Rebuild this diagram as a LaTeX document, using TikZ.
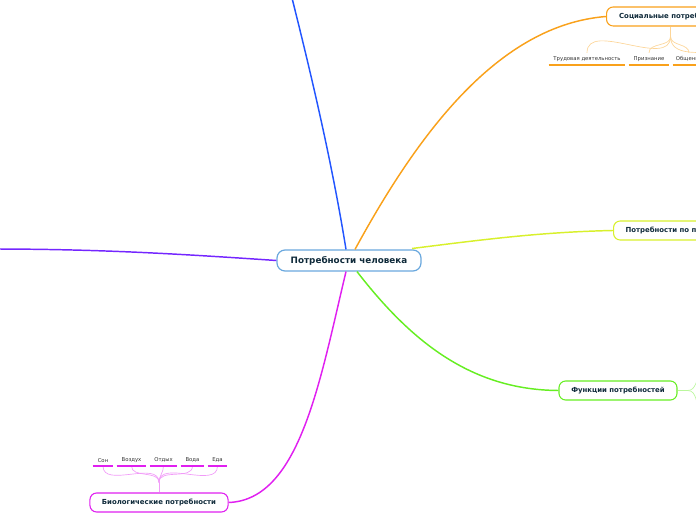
\documentclass[tikz,border=0pt]{standalone}
\usepackage{fontspec}
\setmainfont{DejaVu Sans}
\definecolor{txt}{HTML}{0F2A3A}
\definecolor{rootc}{HTML}{6AA8DE}
\definecolor{bluec}{HTML}{2255FF}
\definecolor{socialc}{HTML}{F9A11B}
\definecolor{originc}{HTML}{D8F02C}
\definecolor{funcc}{HTML}{66EE22}
\definecolor{bioc}{HTML}{E020F0}
\definecolor{purplec}{HTML}{7426FF}

\begin{document}
\begin{tikzpicture}[x=0.75pt,y=-0.75pt,
    root/.style={draw=rootc, fill=white, rounded corners=6pt, line width=0.9pt,
        minimum width=108pt, minimum height=15.75pt, inner sep=0pt,
        font=\bfseries\fontsize{6.6}{8}\selectfont, text=txt},
    topic/.style={draw=#1, fill=white, rounded corners=5pt, line width=0.8pt,
        minimum height=14.25pt, inner xsep=9pt, inner ysep=0pt,
        font=\bfseries\fontsize{5.2}{6}\selectfont, text=txt},
    leaf/.style={anchor=south, inner xsep=1pt, inner ysep=2.5pt,
        font=\fontsize{4}{5}\selectfont, text=black!80},
    branch/.style={line width=1.1pt, draw=#1},
    fork/.style={line width=0.5pt, draw=#1!45},
    uline/.style={line width=1.4pt, draw=#1}]

    \useasboundingbox (0,0) rectangle (696,520);
    \clip (0,0) rectangle (696,520);

    % Nodes
    \node[root] (root) at (349,260.5) {Потребности человека};
    \node[topic=socialc, anchor=west, minimum width=96pt] (social) at (606,16.5) {Социальные потребности};
    \node[topic=originc, anchor=west] (origin) at (613,230.5) {Потребности по происхождению};
    \node[topic=funcc, minimum width=88.5pt] (func) at (618,390.5) {Функции потребностей};
    \node[topic=bioc, minimum width=103.5pt] (bio) at (159,502.5) {Биологические потребности};

    % Free ends outside the picture
    \coordinate (up) at (290,-10);
    \coordinate (left) at (-10,249);

    % Main branches
    \draw[branch=bluec] (root.north -| 346,0) .. controls (330,150) and (305,50) .. (up);
    \draw[branch=socialc] (root.north -| 355,0) .. controls (420,130) and (500,25) .. (social.west);
    \draw[branch=originc] (412,248.5) .. controls (480,240) and (540,232) .. (origin.west);
    \draw[branch=funcc] (root.south -| 357,0) .. controls (410,340) and (470,390) .. (func.west);
    \draw[branch=bioc] (root.south -| 346,0) .. controls (320,380) and (300,500) .. (bio.east);
    \draw[branch=purplec] (root.west) .. controls (180,254) and (100,249) .. (left);

    % Social needs
    \node[leaf, minimum width=57pt] (work) at (587,65) {Трудовая деятельность};
    \node[leaf, minimum width=30pt] (fame) at (649,65) {Признание};
    \node[leaf, minimum width=24pt] (talk) at (689,65) {Общение};
    \coordinate (more) at (720,52);
    \draw[fork=socialc] (social.south) -- ++(0,10) coordinate (sj);
    \foreach \n in {work,fame,talk}
        \draw[fork=socialc] (sj) to[out=-90,in=90] (\n.north);
    \draw[fork=socialc] (sj) to[out=-90,in=180] (more);
    \foreach \n in {work,fame,talk}
        \draw[uline=socialc] (\n.south west) -- (\n.south east);

    % Functions
    \coordinate (f1) at (702,372);
    \coordinate (f2) at (702,412);
    \draw[fork=funcc] (func.east) -- ++(10,0) coordinate (fj);
    \draw[fork=funcc] (fj) to[out=0,in=225] (f1);
    \draw[fork=funcc] (fj) to[out=0,in=135] (f2);

    % Biological needs
    \node[leaf, minimum width=15pt] (sleep) at (103,466) {Сон};
    \node[leaf, minimum width=21.75pt] (air) at (131.5,466) {Воздух};
    \node[leaf, minimum width=20.25pt] (rest) at (163.5,466) {Отдых};
    \node[leaf, minimum width=17.25pt] (water) at (192.5,466) {Вода};
    \node[leaf, minimum width=14.25pt] (food) at (217.5,466) {Еда};
    \draw[fork=bioc] (bio.north) -- ++(0,-10) coordinate (bj);
    \foreach \n in {sleep,air,rest,water,food}
        \draw[fork=bioc] (bj) to[out=90,in=-90] (\n.south);
    \foreach \n in {sleep,air,rest,water,food}
        \draw[uline=bioc] (\n.south west) -- (\n.south east);
\end{tikzpicture}
\end{document}
